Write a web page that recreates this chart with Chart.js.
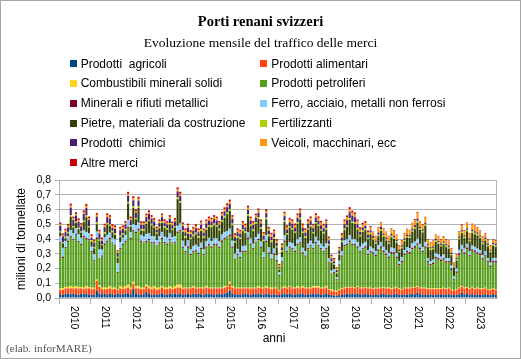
<!DOCTYPE html>
<html>
<head>
<meta charset="utf-8">
<script src="https://cdn.jsdelivr.net/npm/chart.js@4.4.0/dist/chart.umd.min.js"></script>
<style>
  body { margin: 0; background: #fff; }
  #wrap { position: relative; width: 521px; height: 359px; overflow: hidden; }
  #chart { position: absolute; left: 0; top: 0; }
  .t { position: absolute; left: 0; width: 521px; text-align: center; font-family: 'Liberation Serif', 'Times New Roman', serif; white-space: nowrap; }
  #title { top: 13.9px; font-size: 14.5px; line-height: 14.5px; font-weight: bold; }
  #subtitle { top: 36.4px; font-size: 13.5px; line-height: 13.5px; }
  .lg { position: absolute; font-family: 'Liberation Sans', Arial, sans-serif; font-size: 12px; line-height: 12px; white-space: pre; color: #000; }
  .sw { position: absolute; width: 7px; height: 7px; }
  #credit { position: absolute; left: 6px; top: 342.5px; font-family: 'Liberation Serif', 'Times New Roman', serif; font-size: 11.2px; line-height: 11.2px; color: #555; }
</style>
</head>
<body>
<div id="wrap">
  <canvas id="chart" width="521" height="359"></canvas>
  <div class="t" id="title">Porti renani svizzeri</div>
  <div class="t" id="subtitle">Evoluzione mensile del traffico delle merci</div>
  <div id="legend"></div>
  <div id="credit">(elab. inforMARE)</div>
</div>
<script>
// ── Data (milioni di tonnellate, mensile 2010-2023) ──────────────────────────

const YEARS = ['2010', '2011', '2012', '2013', '2014', '2015', '2016',
               '2017', '2018', '2019', '2020', '2021', '2022', '2023'];

const MONTHS = [];
YEARS.forEach(y => { for (let m = 1; m <= 12; m++) MONTHS.push(y + '-' + String(m).padStart(2, '0')); });

const agricoli = [
  0.025,0.02,0.03,0.03,0.025,0.03,0.025,0.02,0.03,0.025,0.03,0.02,
  0.025,0.02,0.05,0.03,0.025,0.03,0.02,0.03,0.025,0.02,0.03,0.025,
  0.025,0.03,0.03,0.025,0.06,0.03,0.025,0.02,0.025,0.04,0.03,0.02,
  0.025,0.02,0.025,0.03,0.025,0.02,0.03,0.025,0.03,0.025,0.03,0.02,
  0.025,0.03,0.02,0.03,0.025,0.03,0.025,0.02,0.03,0.025,0.03,0.02,
  0.025,0.03,0.025,0.03,0.035,0.05,0.03,0.02,0.025,0.02,0.025,0.03,
  0.025,0.02,0.03,0.025,0.03,0.025,0.02,0.03,0.025,0.02,0.025,0.02,
  0.02,0.025,0.03,0.025,0.03,0.025,0.02,0.03,0.025,0.03,0.02,0.025,
  0.025,0.03,0.025,0.03,0.02,0.025,0.03,0.02,0.02,0.015,0.015,0.02,
  0.02,0.025,0.03,0.025,0.03,0.025,0.03,0.025,0.02,0.03,0.025,0.02,
  0.02,0.025,0.02,0.025,0.03,0.02,0.025,0.02,0.025,0.03,0.02,0.02,
  0.025,0.02,0.025,0.03,0.025,0.035,0.025,0.02,0.025,0.02,0.025,0.02,
  0.02,0.025,0.02,0.025,0.02,0.025,0.02,0.02,0.02,0.025,0.035,0.025,
  0.03,0.02,0.025,0.02,0.025,0.02,0.02,0.025,0.02,0.02,0.025,0.02,
];
const alimentari = [
  0.03,0.035,0.035,0.035,0.04,0.035,0.04,0.045,0.035,0.035,0.035,0.045,
  0.035,0.04,0.065,0.045,0.035,0.03,0.04,0.035,0.035,0.04,0.025,0.04,
  0.035,0.035,0.04,0.035,0.035,0.035,0.04,0.04,0.035,0.04,0.035,0.04,
  0.04,0.035,0.035,0.04,0.035,0.04,0.035,0.035,0.035,0.045,0.04,0.04,
  0.04,0.035,0.045,0.04,0.04,0.035,0.04,0.045,0.04,0.04,0.035,0.045,
  0.04,0.035,0.04,0.04,0.04,0.045,0.04,0.045,0.04,0.045,0.04,0.035,
  0.04,0.045,0.035,0.04,0.04,0.04,0.045,0.04,0.04,0.04,0.04,0.045,
  0.025,0.04,0.04,0.04,0.045,0.04,0.045,0.04,0.04,0.04,0.045,0.04,
  0.04,0.04,0.045,0.04,0.045,0.04,0.04,0.035,0.03,0.03,0.025,0.035,
  0.04,0.04,0.04,0.045,0.04,0.04,0.045,0.04,0.045,0.04,0.04,0.045,
  0.04,0.04,0.045,0.04,0.04,0.045,0.04,0.04,0.04,0.04,0.04,0.035,
  0.04,0.045,0.04,0.04,0.045,0.04,0.04,0.045,0.04,0.04,0.035,0.04,
  0.04,0.035,0.04,0.04,0.04,0.04,0.035,0.03,0.035,0.04,0.04,0.04,
  0.04,0.04,0.045,0.04,0.04,0.04,0.04,0.04,0.035,0.035,0.035,0.035,
];
const combustibili = [
  0.01,0.01,0.01,0.01,0.015,0.01,0.015,0.01,0.01,0.01,0.015,0.01,
  0.01,0.01,0.01,0.01,0.01,0.01,0.01,0.015,0.01,0.01,0.005,0.015,
  0.01,0.015,0.02,0.01,0.015,0.015,0.015,0.01,0.01,0.01,0.015,0.01,
  0.015,0.015,0.01,0.01,0.01,0.01,0.015,0.01,0.015,0.02,0.02,0.01,
  0.005,0.005,0.005,0.01,0.005,0.005,0.005,0.005,0.01,0.005,0.005,0.005,
  0.005,0.005,0.005,0.01,0.005,0.015,0.01,0.005,0.005,0.005,0.005,0.005,
  0.005,0.005,0.005,0.005,0.01,0.005,0.005,0.01,0.005,0.01,0.005,0.005,
  0.005,0.005,0.01,0.005,0.005,0.005,0.005,0.01,0.005,0.01,0.005,0.005,
  0.005,0.01,0.01,0.01,0.005,0.005,0.01,0.005,0.01,0.005,0.01,0.005,
  0.005,0.005,0.005,0.005,0.005,0.005,0.005,0.005,0.005,0.005,0.005,0.005,
  0.005,0.005,0.004,0.005,0.005,0.005,0.006,0.005,0.005,0.005,0.005,0.005,
  0.005,0.005,0.005,0.005,0.005,0.006,0.005,0.005,0.005,0.005,0.005,0.005,
  0.005,0.005,0.005,0.005,0.005,0.005,0.005,0.004,0.005,0.005,0.005,0.005,
  0.005,0.005,0.005,0.005,0.005,0.005,0.005,0.005,0.005,0.005,0.005,0.005,
];
const petroliferi = [
  0.305,0.205,0.265,0.305,0.33,0.315,0.345,0.305,0.285,0.34,0.32,0.315,
  0.24,0.18,0.275,0.175,0.21,0.29,0.31,0.32,0.30,0.28,0.11,0.25,
  0.29,0.30,0.38,0.33,0.34,0.36,0.38,0.31,0.30,0.29,0.31,0.30,
  0.29,0.28,0.30,0.32,0.30,0.29,0.31,0.30,0.29,0.35,0.36,0.27,
  0.24,0.27,0.22,0.23,0.25,0.23,0.26,0.22,0.26,0.29,0.27,0.29,
  0.29,0.27,0.31,0.32,0.33,0.31,0.26,0.19,0.22,0.20,0.24,0.24,
  0.33,0.29,0.26,0.30,0.31,0.27,0.20,0.30,0.23,0.19,0.22,0.18,
  0.10,0.17,0.30,0.24,0.26,0.26,0.24,0.28,0.30,0.22,0.21,0.26,
  0.28,0.25,0.29,0.27,0.26,0.24,0.25,0.18,0.10,0.12,0.07,0.16,
  0.215,0.28,0.285,0.305,0.285,0.29,0.26,0.24,0.26,0.265,0.22,0.24,
  0.235,0.21,0.25,0.27,0.235,0.22,0.20,0.235,0.23,0.195,0.155,0.18,
  0.22,0.24,0.23,0.255,0.265,0.28,0.26,0.24,0.27,0.175,0.155,0.165,
  0.205,0.195,0.185,0.19,0.175,0.17,0.13,0.065,0.11,0.22,0.24,0.23,
  0.255,0.215,0.245,0.245,0.23,0.225,0.195,0.21,0.18,0.15,0.175,0.18,
];
const minerali = [
  0.008,0.01,0.006,0.008,0.01,0.008,0.008,0.006,0.008,0.01,0.008,0.008,
  0.008,0.006,0.01,0.008,0.008,0.01,0.008,0.008,0.006,0.008,0.006,0.008,
  0.008,0.008,0.01,0.008,0.01,0.008,0.01,0.008,0.006,0.008,0.01,0.008,
  0.008,0.006,0.008,0.008,0.01,0.008,0.008,0.006,0.008,0.01,0.01,0.008,
  0.008,0.01,0.008,0.008,0.006,0.008,0.01,0.008,0.008,0.008,0.01,0.008,
  0.008,0.008,0.01,0.008,0.008,0.01,0.008,0.006,0.008,0.008,0.008,0.01,
  0.01,0.008,0.008,0.008,0.01,0.008,0.006,0.008,0.008,0.008,0.01,0.008,
  0.006,0.008,0.01,0.008,0.008,0.008,0.01,0.008,0.008,0.01,0.008,0.008,
  0.008,0.008,0.01,0.008,0.008,0.008,0.008,0.006,0.006,0.006,0.006,0.008,
  0.008,0.01,0.008,0.01,0.008,0.008,0.01,0.008,0.008,0.01,0.008,0.008,
  0.01,0.012,0.01,0.01,0.012,0.01,0.01,0.012,0.01,0.01,0.01,0.012,
  0.01,0.01,0.012,0.01,0.012,0.01,0.012,0.01,0.01,0.01,0.01,0.01,
  0.01,0.012,0.01,0.01,0.01,0.01,0.01,0.008,0.01,0.012,0.01,0.01,
  0.012,0.01,0.01,0.012,0.01,0.01,0.01,0.01,0.01,0.01,0.01,0.012,
];
const ferro = [
  0.04,0.06,0.04,0.03,0.04,0.04,0.04,0.045,0.04,0.04,0.04,0.04,
  0.03,0.04,0.04,0.06,0.04,0.04,0.04,0.035,0.03,0.04,0.06,0.04,
  0.04,0.04,0.05,0.04,0.04,0.045,0.04,0.04,0.04,0.045,0.04,0.04,
  0.04,0.035,0.04,0.04,0.035,0.04,0.04,0.035,0.04,0.04,0.045,0.04,
  0.035,0.04,0.03,0.035,0.035,0.04,0.035,0.03,0.035,0.04,0.035,0.035,
  0.035,0.035,0.04,0.04,0.035,0.04,0.04,0.035,0.035,0.03,0.035,0.035,
  0.035,0.035,0.03,0.035,0.035,0.035,0.035,0.04,0.035,0.03,0.035,0.03,
  0.02,0.03,0.035,0.03,0.03,0.035,0.03,0.03,0.035,0.03,0.03,0.03,
  0.03,0.03,0.035,0.03,0.03,0.03,0.035,0.025,0.02,0.02,0.015,0.025,
  0.03,0.03,0.03,0.035,0.03,0.03,0.03,0.03,0.03,0.03,0.025,0.03,
  0.025,0.025,0.03,0.03,0.025,0.025,0.025,0.03,0.025,0.025,0.02,0.025,
  0.025,0.025,0.025,0.03,0.03,0.03,0.025,0.025,0.03,0.02,0.02,0.02,
  0.025,0.025,0.02,0.025,0.02,0.02,0.02,0.02,0.02,0.025,0.03,0.025,
  0.025,0.025,0.025,0.025,0.025,0.025,0.02,0.025,0.02,0.02,0.02,0.02,
];
const pietre = [
  0.025,0.03,0.02,0.02,0.09,0.04,0.035,0.035,0.035,0.055,0.10,0.04,
  0.035,0.04,0.05,0.06,0.03,0.025,0.07,0.045,0.04,0.03,0.035,0.035,
  0.02,0.03,0.11,0.035,0.11,0.04,0.10,0.03,0.04,0.07,0.08,0.075,
  0.06,0.045,0.055,0.06,0.06,0.055,0.06,0.05,0.06,0.18,0.14,0.06,
  0.055,0.045,0.07,0.065,0.07,0.06,0.08,0.08,0.08,0.075,0.095,0.09,
  0.08,0.075,0.085,0.095,0.115,0.12,0.105,0.075,0.075,0.09,0.10,0.085,
  0.11,0.085,0.085,0.09,0.10,0.085,0.075,0.105,0.075,0.08,0.065,0.055,
  0.015,0.035,0.09,0.08,0.10,0.09,0.09,0.105,0.12,0.10,0.09,0.095,
  0.095,0.07,0.09,0.10,0.09,0.09,0.09,0.085,0.055,0.03,0.025,0.04,
  0.06,0.07,0.085,0.105,0.11,0.105,0.085,0.07,0.08,0.08,0.075,0.085,
  0.06,0.05,0.06,0.075,0.07,0.065,0.06,0.07,0.065,0.07,0.06,0.06,
  0.06,0.065,0.07,0.08,0.085,0.11,0.095,0.10,0.11,0.075,0.075,0.07,
  0.075,0.07,0.07,0.07,0.075,0.065,0.07,0.06,0.055,0.07,0.08,0.07,
  0.085,0.07,0.085,0.085,0.09,0.08,0.075,0.075,0.08,0.07,0.085,0.075,
];
const fertilizzanti = [
  0.01,0.008,0.01,0.01,0.012,0.01,0.01,0.01,0.008,0.01,0.012,0.01,
  0.01,0.01,0.012,0.01,0.008,0.01,0.01,0.01,0.01,0.01,0.008,0.01,
  0.01,0.01,0.012,0.01,0.012,0.01,0.01,0.008,0.01,0.01,0.01,0.01,
  0.01,0.008,0.01,0.01,0.01,0.01,0.01,0.008,0.01,0.012,0.012,0.01,
  0.012,0.012,0.01,0.012,0.012,0.012,0.012,0.01,0.012,0.012,0.012,0.012,
  0.012,0.012,0.012,0.014,0.012,0.012,0.012,0.01,0.012,0.012,0.012,0.012,
  0.012,0.012,0.012,0.012,0.014,0.012,0.01,0.012,0.012,0.012,0.012,0.01,
  0.008,0.01,0.01,0.01,0.01,0.01,0.01,0.01,0.012,0.01,0.01,0.01,
  0.01,0.01,0.01,0.01,0.01,0.01,0.01,0.01,0.008,0.008,0.008,0.008,
  0.01,0.01,0.01,0.012,0.01,0.01,0.01,0.01,0.01,0.01,0.01,0.01,
  0.01,0.01,0.01,0.012,0.01,0.01,0.01,0.01,0.01,0.01,0.008,0.01,
  0.01,0.01,0.01,0.01,0.012,0.012,0.01,0.01,0.01,0.01,0.01,0.01,
  0.01,0.01,0.01,0.01,0.01,0.01,0.008,0.008,0.008,0.01,0.01,0.01,
  0.01,0.01,0.012,0.01,0.01,0.01,0.01,0.01,0.01,0.01,0.01,0.01,
];
const chimici = [
  0.035,0.04,0.03,0.03,0.05,0.04,0.04,0.04,0.035,0.045,0.05,0.04,
  0.015,0.03,0.04,0.04,0.02,0.035,0.04,0.04,0.02,0.03,0.025,0.035,
  0.03,0.03,0.04,0.035,0.04,0.035,0.04,0.03,0.03,0.035,0.04,0.035,
  0.03,0.02,0.025,0.03,0.025,0.025,0.03,0.025,0.03,0.04,0.035,0.03,
  0.025,0.03,0.025,0.025,0.03,0.025,0.03,0.025,0.03,0.03,0.025,0.03,
  0.03,0.025,0.03,0.03,0.035,0.035,0.03,0.025,0.025,0.025,0.03,0.025,
  0.03,0.025,0.03,0.03,0.03,0.025,0.025,0.03,0.025,0.025,0.025,0.02,
  0.01,0.02,0.03,0.025,0.025,0.03,0.025,0.03,0.03,0.025,0.025,0.03,
  0.03,0.025,0.03,0.025,0.025,0.025,0.03,0.025,0.02,0.015,0.015,0.02,
  0.02,0.03,0.035,0.04,0.04,0.035,0.025,0.02,0.02,0.02,0.02,0.015,
  0.015,0.01,0.015,0.015,0.01,0.01,0.01,0.015,0.01,0.01,0.01,0.01,
  0.01,0.01,0.01,0.01,0.015,0.015,0.01,0.01,0.01,0.01,0.01,0.01,
  0.01,0.01,0.01,0.01,0.01,0.01,0.01,0.005,0.01,0.01,0.01,0.01,
  0.01,0.01,0.012,0.01,0.01,0.008,0.01,0.01,0.01,0.008,0.01,0.01,
];
const veicoli = [
  0.012,0.01,0.012,0.012,0.014,0.012,0.012,0.012,0.012,0.012,0.014,0.012,
  0.012,0.01,0.012,0.012,0.012,0.012,0.014,0.012,0.012,0.012,0.01,0.012,
  0.012,0.012,0.014,0.012,0.014,0.012,0.012,0.012,0.012,0.012,0.012,0.012,
  0.012,0.01,0.012,0.012,0.012,0.012,0.012,0.012,0.012,0.014,0.014,0.012,
  0.015,0.015,0.015,0.015,0.015,0.015,0.015,0.015,0.015,0.015,0.015,0.015,
  0.015,0.015,0.015,0.016,0.015,0.016,0.015,0.015,0.015,0.015,0.015,0.015,
  0.015,0.015,0.015,0.015,0.016,0.015,0.015,0.015,0.015,0.015,0.015,0.014,
  0.012,0.015,0.018,0.018,0.018,0.018,0.018,0.018,0.018,0.018,0.018,0.018,
  0.018,0.018,0.018,0.018,0.018,0.018,0.018,0.016,0.014,0.012,0.012,0.015,
  0.02,0.02,0.02,0.02,0.02,0.02,0.02,0.02,0.02,0.02,0.02,0.02,
  0.025,0.03,0.03,0.025,0.03,0.035,0.03,0.03,0.035,0.03,0.025,0.03,
  0.03,0.035,0.03,0.035,0.035,0.04,0.035,0.03,0.035,0.03,0.03,0.035,
  0.025,0.03,0.025,0.03,0.03,0.03,0.025,0.02,0.02,0.03,0.035,0.03,
  0.035,0.03,0.035,0.035,0.03,0.03,0.03,0.025,0.025,0.025,0.02,0.02,
];
const altre = [
  0.012,0.01,0.012,0.012,0.014,0.012,0.012,0.012,0.01,0.012,0.014,0.012,
  0.012,0.01,0.012,0.012,0.012,0.012,0.012,0.012,0.012,0.012,0.01,0.012,
  0.012,0.012,0.014,0.012,0.014,0.012,0.014,0.012,0.012,0.012,0.012,0.012,
  0.012,0.01,0.012,0.012,0.012,0.012,0.012,0.012,0.012,0.014,0.014,0.012,
  0.012,0.012,0.012,0.012,0.012,0.012,0.012,0.012,0.012,0.012,0.012,0.012,
  0.012,0.012,0.012,0.012,0.012,0.014,0.012,0.012,0.012,0.012,0.012,0.012,
  0.014,0.012,0.012,0.012,0.012,0.012,0.012,0.012,0.012,0.012,0.012,0.012,
  0.01,0.012,0.012,0.012,0.012,0.012,0.012,0.012,0.014,0.012,0.012,0.012,
  0.012,0.012,0.012,0.012,0.012,0.012,0.012,0.01,0.01,0.01,0.008,0.01,
  0.012,0.012,0.012,0.014,0.014,0.012,0.012,0.012,0.012,0.012,0.01,0.01,
  0.005,0.005,0.005,0.006,0.005,0.005,0.005,0.005,0.005,0.005,0.005,0.005,
  0.005,0.005,0.005,0.005,0.006,0.006,0.005,0.005,0.005,0.005,0.005,0.005,
  0.005,0.005,0.005,0.005,0.005,0.005,0.005,0.004,0.005,0.005,0.005,0.005,
  0.005,0.005,0.005,0.005,0.005,0.005,0.005,0.005,0.005,0.005,0.005,0.005,
];

const SERIES = [
  { label: 'Prodotti  agricoli', data: agricoli, color: '#004586' },
  { label: 'Prodotti alimentari', data: alimentari, color: '#ff420e' },
  { label: 'Combustibili minerali solidi', data: combustibili, color: '#ffd320' },
  { label: 'Prodotti petroliferi', data: petroliferi, color: '#579d1c' },
  { label: 'Minerali e rifiuti metallici', data: minerali, color: '#7e0021' },
  { label: 'Ferro, acciaio, metalli non ferrosi', data: ferro, color: '#83caff' },
  { label: 'Pietre, materiali da costruzione', data: pietre, color: '#314004' },
  { label: 'Fertilizzanti', data: fertilizzanti, color: '#aecf00' },
  { label: 'Prodotti  chimici', data: chimici, color: '#4b1f6f' },
  { label: 'Veicoli, macchinari, ecc', data: veicoli, color: '#ff950e' },
  { label: 'Altre merci', data: altre, color: '#c5000b' },
];

const GRID = '#b3b3b3';

// ── Legend (two columns, HTML) ────────────────────────────────────────────────

const legendEl = document.getElementById('legend');
legendEl.innerHTML = SERIES.map((s, i) => {
  const col = i % 2, row = Math.floor(i / 2);
  const base = 67.7 + row * 19.8;
  const sx = col ? 260 : 70, tx = col ? 271.3 : 80.7;
  return `<div class="sw" style="left:${sx}px;top:${(base - 7.5).toFixed(1)}px;background:${s.color}"></div>` +
         `<div class="lg" style="left:${tx}px;top:${(base - 10.2).toFixed(1)}px">${s.label}</div>`;
}).join('');

// ── Extra drawing: frame, year labels, axis titles ────────────────────────────

const decorPlugin = {
  id: 'decor',
  beforeDatasetsDraw(chart) {
    const { ctx, chartArea: a } = chart;
    ctx.save();
    ctx.strokeStyle = GRID;
    ctx.lineWidth = 1;
    ctx.strokeRect(Math.round(a.left) + 0.5, Math.round(a.top) + 0.5,
                   Math.round(a.right - a.left) - 1, Math.round(a.bottom - a.top));
    ctx.restore();
  },
  afterDraw(chart) {
    const { ctx, scales } = chart;
    const xs = scales.x;
    ctx.save();
    ctx.fillStyle = '#000';
    ctx.font = '10.5px "Liberation Sans", Arial, sans-serif';
    ctx.textAlign = 'left';
    ctx.textBaseline = 'middle';
    YEARS.forEach((yr, n) => {
      const cx = (xs.getPixelForValue(n * 12) + xs.getPixelForValue(n * 12 + 11)) / 2 - 1;
      ctx.save();
      ctx.translate(cx, 306);
      ctx.rotate(Math.PI / 2);
      ctx.fillText(yr, 0, 0);
      ctx.restore();
    });
    ctx.font = '12px "Liberation Sans", Arial, sans-serif';
    ctx.textAlign = 'center';
    ctx.textBaseline = 'alphabetic';
    ctx.fillText('anni', 274, 342);
    ctx.save();
    ctx.translate(24.5, 239);
    ctx.rotate(-Math.PI / 2);
    ctx.fillText('milioni di tonnellate', 0, 0);
    ctx.restore();
    // outer frame
    ctx.strokeStyle = '#a6a6a6';
    ctx.strokeRect(0.5, 0.5, 520, 358);
    ctx.restore();
  },
};

new Chart(document.getElementById('chart'), {
  type: 'bar',
  data: {
    labels: MONTHS,
    datasets: SERIES.map(s => ({
      label: s.label,
      data: s.data,
      backgroundColor: s.color,
      borderWidth: 0,
      barPercentage: 0.8,
      categoryPercentage: 1.0,
    })),
  },
  options: {
    responsive: false,
    animation: false,
    layout: { padding: { top: 180, right: 24, bottom: 0, left: 0 } },
    plugins: {
      legend: { display: false },
      tooltip: { enabled: false },
    },
    scales: {
      x: {
        stacked: true,
        afterFit(scale) { scale.height = 61; },
        ticks: { display: false, autoSkip: false },
        grid: {
          offset: true,
          drawOnChartArea: false,
          tickLength: 6,
          color: c => (c.index % 12 === 0 ? GRID : 'rgba(0,0,0,0)'),
        },
        border: { display: true, color: GRID },
      },
      y: {
        stacked: true,
        min: 0,
        max: 0.8,
        afterFit(scale) { scale.width = 59; },
        ticks: {
          stepSize: 0.1,
          autoSkip: false,
          padding: 4,
          color: '#000',
          font: { size: 10.5, family: '"Liberation Sans", Arial, sans-serif' },
          callback: v => v.toFixed(1).replace('.', ','),
        },
        grid: { color: GRID, tickLength: 4 },
        border: { display: true, color: GRID },
      },
    },
  },
  plugins: [decorPlugin],
});
</script>
</body>
</html>
